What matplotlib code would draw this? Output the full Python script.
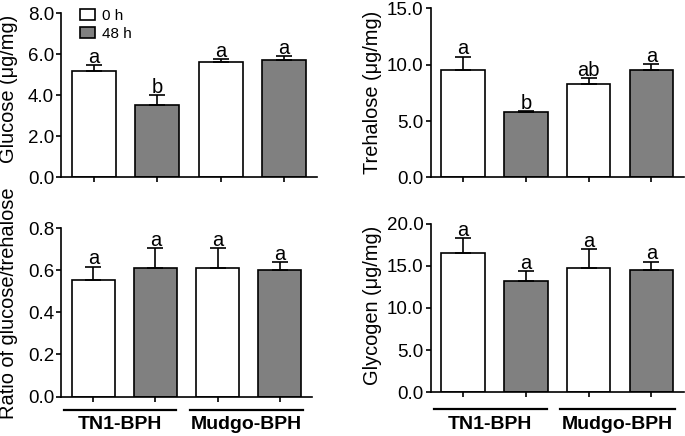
import matplotlib
matplotlib.use("Agg")
import matplotlib.pyplot as plt
from matplotlib.patches import Patch
from matplotlib.ticker import FormatStrFormatter
import matplotlib.transforms as mtransforms

plt.rcParams['font.family'] = ['Liberation Sans', 'DejaVu Sans']

groups = ["TN1-BPH", "Mudgo-BPH"]
series = ["0 h", "48 h"]
colors = ["#ffffff", "#808080"]

glucose = [5.20, 3.55, 5.60, 5.70]
glucose_err = [0.25, 0.48, 0.18, 0.21]
glucose_lbl = ["a", "b", "a", "a"]

trehalose = [9.55, 5.80, 8.26, 9.52]
trehalose_err = [1.17, 0.10, 0.55, 0.50]
trehalose_lbl = ["a", "b", "ab", "a"]

ratio = [0.556, 0.611, 0.610, 0.602]
ratio_err = [0.062, 0.097, 0.098, 0.036]
ratio_lbl = ["a", "a", "a", "a"]

glycogen = [16.49, 13.17, 14.73, 14.53]
glycogen_err = [1.84, 1.23, 2.24, 1.00]
glycogen_lbl = ["a", "a", "a", "a"]

W, H = 685, 436
fig = plt.figure(figsize=(W / 100, H / 100), dpi=100)


def add_ax(left, right, top, bottom):
    return fig.add_axes([left / W, 1 - bottom / H, (right - left) / W, (bottom - top) / H])


LW = 1.2


def panel(ax, vals, errs, lbls, ymax, step, ylabel, lab_x, lab_y):
    x = list(range(len(vals)))
    fills = [colors[i % 2] for i in x]
    ax.bar(x, vals, width=0.69, color=fills, edgecolor="black", linewidth=LW, zorder=2)
    ax.errorbar(x, vals, yerr=[[0] * len(errs), errs], fmt="none", ecolor="black",
                elinewidth=LW, capsize=6, capthick=LW, zorder=3)
    for xi, v, e, t in zip(x, vals, errs, lbls):
        ax.annotate(t, (xi, v + e), xytext=(0, 1.5), textcoords="offset points",
                    ha="center", va="baseline", fontsize=14.5)
    ax.set_xlim(-0.52, 3.52)
    ax.set_ylim(0, ymax)
    ax.set_yticks([i * step for i in range(int(round(ymax / step)) + 1)])
    ax.yaxis.set_major_formatter(FormatStrFormatter("%.1f"))
    ax.set_xticks(x)
    ax.set_xticklabels([])
    for s in ["top", "right"]:
        ax.spines[s].set_visible(False)
    for s in ["left", "bottom"]:
        ax.spines[s].set_linewidth(LW)
    ax.tick_params(axis="both", direction="out", length=3.5, width=LW, labelsize=13.5, pad=1.5)
    ax.set_ylabel(ylabel, fontsize=14.4)
    ax.yaxis.set_label_coords(lab_x, lab_y)
    ax.yaxis.label.set_verticalalignment("bottom")


def group_labels(ax, line_y, text_y):
    trans = mtransforms.blended_transform_factory(ax.transData, ax.transAxes)
    spans = [(-0.47, 1.33), (1.55, 3.37)]
    for (a, b), g in zip(spans, groups):
        ax.plot([a, b], [line_y, line_y], color="black", lw=1.6, transform=trans, clip_on=False)
        ax.text((a + b) / 2, text_y, g, transform=trans, ha="center", va="center",
                fontsize=14, fontweight="bold")


ax1 = add_ax(61, 317, 13, 177.5)
panel(ax1, glucose, glucose_err, glucose_lbl, 8.0, 2.0, "Glucose (μg/mg)", -0.167, 0.538)

ax2 = add_ax(430.5, 684, 8.3, 177.5)
panel(ax2, trehalose, trehalose_err, trehalose_lbl, 15.0, 5.0, "Trehalose (μg/mg)", -0.191, 0.502)

ax3 = add_ax(61, 312, 228.3, 396.5)
panel(ax3, ratio, ratio_err, ratio_lbl, 0.8, 0.2, "Ratio of glucose/trehalose", -0.17, 0.556)
group_labels(ax3, -0.079, -0.168)

ax4 = add_ax(430.5, 684, 224, 392)
panel(ax4, glycogen, glycogen_err, glycogen_lbl, 20.0, 5.0, "Glycogen (μg/mg)", -0.191, 0.515)
group_labels(ax4, -0.104, -0.195)

handles = [Patch(facecolor=c, edgecolor="black", linewidth=LW) for c in colors]
fig.legend(handles, series, loc="upper left", bbox_to_anchor=(80 / W, 1 - 9 / H),
           frameon=False, fontsize=11, handlelength=0.95, handleheight=0.7,
           handletextpad=0.5, labelspacing=0.25, borderpad=0, borderaxespad=0)

fig.savefig("out.png", dpi=100)
